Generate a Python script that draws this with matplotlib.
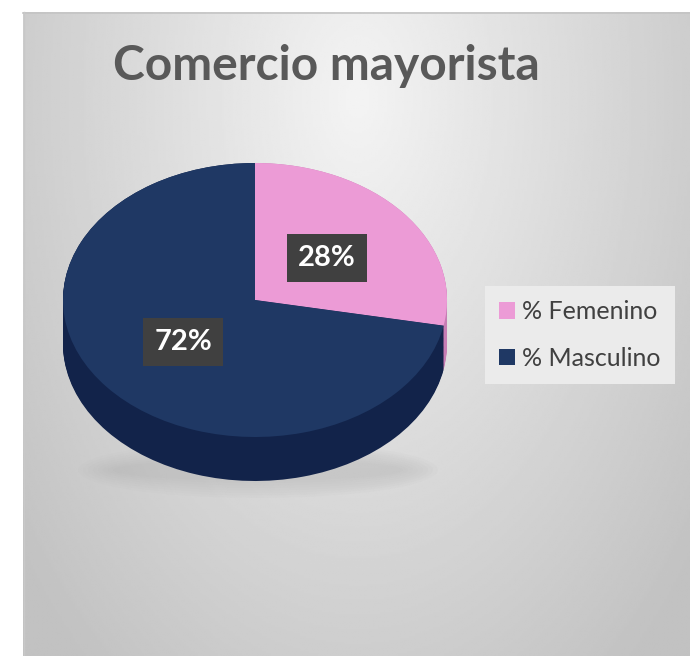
import matplotlib.pyplot as plt
import numpy as np
from matplotlib.patches import Ellipse

# data
categories = ["% Femenino", "% Masculino"]
shares = [28, 72]
top_colors = ["#EC9BD6", "#1F3864"]
side_colors = ["#C77DB4", "#12234A"]
title = "Comercio mayorista"

W, H = 690, 656
fig = plt.figure(figsize=(W / 100, H / 100), dpi=100)
fig.patch.set_facecolor("white")

# background panel with soft radial gradient
bg = fig.add_axes([0, 0, 1, 1])
bg.set_xlim(0, W)
bg.set_ylim(H, 0)
bg.axis("off")
yy, xx = np.mgrid[0:300, 0:300]
dist = np.sqrt(((xx - 150) / 190.0) ** 2 + ((yy - 40) / 330.0) ** 2)
shade = np.clip(0.955 - 0.19 * dist, 0.76, 0.96)
bg.imshow(shade, cmap="gray", vmin=0, vmax=1, extent=[23, W, H, 12],
          aspect="auto", interpolation="bilinear", zorder=0)
bg.plot([23, W], [12.5, 12.5], color="#c4c4c4", lw=1.2, zorder=1)
bg.plot([23.5, 23.5], [12, H], color="#c8c8c8", lw=1.0, zorder=1)

# soft shadow under the pie
for i in range(8):
    bg.add_patch(Ellipse((258, 470), 360 - i * 10, 56 - i * 5,
                         color="#9a9a9a", alpha=0.035, lw=0, zorder=1))

bg.text(326, 66, title, ha="center", va="center", fontsize=34.5,
        fontweight="bold", color="#595959", family="Lato")

# pie (top ellipse rx=192, ry=137, depth ~44 px)
rx, ry, depth = 192.0, 137.0, 44.0
d = depth / ry
ax = fig.add_axes([(255 - rx) / W, (H - (300 + ry + depth)) / H,
                   2 * rx / W, (2 * ry + depth) / H])
ax.patch.set_alpha(0)

for off in np.linspace(d, 0.0, 40):
    ax.pie(shares, colors=side_colors, startangle=90, counterclock=False,
           center=(0, -off), radius=1, wedgeprops=dict(linewidth=0))

wedges, _, autotexts = ax.pie(
    shares, colors=top_colors, startangle=90, counterclock=False,
    radius=1, autopct="%1.0f%%", pctdistance=0.485,
    wedgeprops=dict(linewidth=0),
    textprops=dict(color="white", fontsize=21, fontweight="bold", family="Lato"),
)
for t in autotexts:
    t.set_bbox(dict(facecolor="#404040", edgecolor="none", pad=8))

ax.set_aspect("auto")
ax.set_xlim(-1, 1)
ax.set_ylim(-1 - d, 1)
ax.axis("off")

leg = fig.legend(wedges, categories, loc="center left",
                 bbox_to_anchor=(485 / W, 1 - 335 / H), borderaxespad=0,
                 prop=dict(family="Lato", size=18), labelcolor="#404040",
                 frameon=True, fancybox=False, facecolor="#ebebeb",
                 edgecolor="none", framealpha=1, handlelength=0.65,
                 handleheight=0.65, handletextpad=0.3, labelspacing=0.95,
                 borderpad=0.55)

fig.savefig("out.png", dpi=100)
